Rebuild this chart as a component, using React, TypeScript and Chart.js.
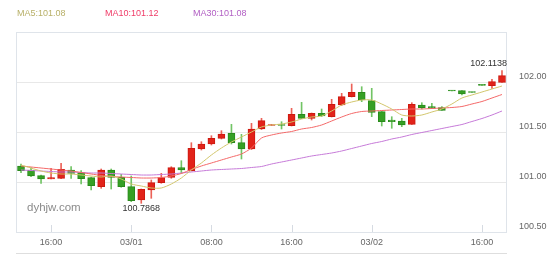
import React, { useEffect, useRef } from 'react';
import { Chart, registerables } from 'chart.js';

Chart.register(...registerables);

const opens = [101.16, 101.12, 101.063, 101.03, 101.037, 101.12, 101.093, 101.043, 100.953, 101.12, 101.047, 100.953, 100.82, 100.92, 100.993, 101.047, 101.143, 101.113, 101.33, 101.38, 101.437, 101.487, 101.393, 101.33, 101.53, 101.565, 101.575, 101.563, 101.677, 101.637, 101.687, 101.653, 101.77, 101.853, 101.897, 101.813, 101.703, 101.62, 101.61, 101.577, 101.77, 101.753, 101.743, 101.915, 101.913, 101.9, 101.972, 101.963, 101.997];
const closes = [101.113, 101.06, 101.03, 101.043, 101.127, 101.087, 101.033, 100.963, 101.12, 101.047, 100.953, 100.813, 100.927, 100.993, 101.043, 101.143, 101.12, 101.337, 101.38, 101.437, 101.48, 101.393, 101.33, 101.53, 101.613, 101.575, 101.565, 101.677, 101.637, 101.687, 101.66, 101.777, 101.853, 101.897, 101.82, 101.697, 101.603, 101.603, 101.57, 101.777, 101.743, 101.737, 101.717, 101.91, 101.88, 101.895, 101.967, 102.003, 102.063];
const highs = [101.18, 101.143, 101.07, 101.137, 101.187, 101.153, 101.113, 101.05, 101.13, 101.13, 101.077, 101.06, 100.93, 101.02, 101.087, 101.153, 101.213, 101.393, 101.403, 101.463, 101.513, 101.577, 101.477, 101.587, 101.637, 101.575, 101.603, 101.737, 101.797, 101.69, 101.73, 101.827, 101.887, 101.98, 101.953, 101.937, 101.705, 101.653, 101.637, 101.793, 101.793, 101.787, 101.753, 101.915, 101.915, 101.9, 101.972, 102.027, 102.1138];
const lows = [101.093, 101.053, 100.987, 101.03, 101.033, 101.037, 100.98, 100.92, 100.937, 100.93, 100.947, 100.803, 100.7868, 100.837, 100.987, 101.037, 101.087, 101.11, 101.32, 101.37, 101.43, 101.38, 101.23, 101.325, 101.525, 101.565, 101.53, 101.56, 101.635, 101.62, 101.655, 101.65, 101.765, 101.85, 101.803, 101.653, 101.56, 101.537, 101.553, 101.575, 101.73, 101.735, 101.715, 101.91, 101.87, 101.895, 101.967, 101.937, 101.995];

const ma5 = [101.17, 101.14, 101.11, 101.09, 101.08, 101.08, 101.07, 101.06, 101.05, 101.06, 101.03, 100.98, 100.96, 100.94, 100.94, 100.98, 101.04, 101.12, 101.19, 101.27, 101.34, 101.40, 101.45, 101.50, 101.55, 101.57, 101.58, 101.60, 101.63, 101.65, 101.66, 101.71, 101.77, 101.80, 101.82, 101.82, 101.78, 101.73, 101.67, 101.66, 101.67, 101.70, 101.73, 101.78, 101.84, 101.87, 101.90, 101.93, 101.96];
const ma10 = [101.16, 101.15, 101.14, 101.13, 101.12, 101.11, 101.095, 101.08, 101.065, 101.055, 101.05, 101.045, 101.04, 101.04, 101.045, 101.06, 101.085, 101.125, 101.16, 101.19, 101.22, 101.25, 101.28, 101.34, 101.44, 101.47, 101.49, 101.505, 101.53, 101.545, 101.57, 101.61, 101.65, 101.685, 101.705, 101.71, 101.715, 101.72, 101.725, 101.73, 101.73, 101.735, 101.74, 101.745, 101.755, 101.78, 101.805, 101.84, 101.875];
const ma30 = [101.12, 101.115, 101.11, 101.105, 101.10, 101.10, 101.095, 101.09, 101.09, 101.085, 101.08, 101.075, 101.07, 101.07, 101.075, 101.08, 101.09, 101.10, 101.11, 101.12, 101.125, 101.13, 101.135, 101.145, 101.155, 101.18, 101.20, 101.22, 101.24, 101.26, 101.275, 101.29, 101.31, 101.335, 101.36, 101.385, 101.405, 101.43, 101.45, 101.475, 101.495, 101.515, 101.535, 101.555, 101.575, 101.605, 101.635, 101.67, 101.71];

const tickIndex = [3, 11, 19, 27, 35, 46];
const tickText = ['16:00', '03/01', '08:00', '16:00', '03/02', '16:00'];
const legendText = ['MA5:101.08', 'MA10:101.12', 'MA30:101.08'];
const legendColors = ['#b8b068', '#f03c68', '#b260c4'];
const lineColors = ['#d2c66c', '#f46868', '#c67ad8'];
const watermark = 'dyhjw.com';
const yMin = 100.5;
const yMax = 102.5;
const yStep = 0.5;

const xLabels: string[] = opens.map((_, i) => {
  const k = tickIndex.indexOf(i);
  return k >= 0 ? tickText[k] : '';
});

const FONT = '"Liberation Sans", Arial, Helvetica, sans-serif';
const UP = '#e2231a', UP_B = '#cc1a10', UP_W = '#ec6258';
const DN = '#36a025', DN_B = '#2a8a1c', DN_W = '#72c465';

export default function App() {
  const ref = useRef<HTMLCanvasElement>(null);

  useEffect(() => {
    if (!ref.current) return;
    const isUp = opens.map((o, i) => closes[i] >= o);

    const decor = {
      id: 'decor',
      beforeDatasetsDraw(chart: any) {
        const ctx = chart.ctx;
        const a = chart.chartArea;
        ctx.save();
        ctx.font = `11.5px ${FONT}`;
        ctx.fillStyle = '#8c8c8c';
        ctx.textBaseline = 'middle';
        ctx.textAlign = 'left';
        ctx.fillText(watermark, a.left + 11, a.bottom - 24);
        ctx.restore();
      },
      afterDraw(chart: any) {
        const ctx = chart.ctx;
        const a = chart.chartArea;
        const xs = chart.scales.x;
        const ys = chart.scales.y;
        ctx.save();
        ctx.strokeStyle = '#dfe4ea';
        ctx.lineWidth = 1;
        ctx.strokeRect(a.left + 0.5, a.top + 0.5, a.right - a.left - 1, a.bottom - a.top);
        ctx.strokeStyle = '#d6dbe2';
        tickIndex.forEach((idx) => {
          const x = Math.round(xs.getPixelForValue(idx)) + 0.5;
          ctx.beginPath();
          ctx.moveTo(x, a.bottom);
          ctx.lineTo(x, a.bottom - 7);
          ctx.stroke();
        });
        ctx.strokeStyle = '#dedede';
        ctx.beginPath();
        ctx.moveTo(a.left, chart.height - 0.5);
        ctx.lineTo(a.right, chart.height - 0.5);
        ctx.stroke();
        ctx.font = `9px ${FONT}`;
        ctx.textBaseline = 'middle';
        ctx.textAlign = 'left';
        const lx = [17, 105, 193];
        legendText.forEach((t, i) => {
          ctx.fillStyle = legendColors[i];
          ctx.fillText(t, lx[i], 14);
        });
        let hi = 0, lo = 0;
        highs.forEach((v, i) => { if (v > highs[hi]) hi = i; });
        lows.forEach((v, i) => { if (v < lows[lo]) lo = i; });
        ctx.fillStyle = '#333';
        ctx.font = `9px ${FONT}`;
        ctx.textAlign = 'center';
        const hiT = highs[hi].toFixed(4);
        const hw = ctx.measureText(hiT).width;
        let hx = xs.getPixelForValue(hi);
        if (hx + hw / 2 > a.right) hx = a.right - hw / 2;
        ctx.textBaseline = 'bottom';
        ctx.fillText(hiT, hx, ys.getPixelForValue(highs[hi]) - 3);
        const loT = lows[lo].toFixed(4);
        const lw = ctx.measureText(loT).width;
        let lxp = xs.getPixelForValue(lo);
        if (lxp - lw / 2 < a.left) lxp = a.left + lw / 2;
        ctx.textBaseline = 'top';
        ctx.fillText(loT, lxp, ys.getPixelForValue(lows[lo]) + 0.5);
        ctx.restore();
      },
    };

    const lineDs = (data: number[], color: string) => ({
      type: 'line' as const,
      data,
      borderColor: color,
      backgroundColor: color,
      borderWidth: 1,
      pointRadius: 0,
      tension: 0.25,
      fill: false,
      order: 0,
    });

    const chart = new Chart(ref.current, {
      type: 'bar',
      data: {
        labels: xLabels,
        datasets: [
          lineDs(ma5, lineColors[0]),
          lineDs(ma10, lineColors[1]),
          lineDs(ma30, lineColors[2]),
          {
            type: 'bar',
            data: opens.map((o, i) => [o, closes[i]]),
            backgroundColor: isUp.map((u) => (u ? UP : DN)),
            borderColor: isUp.map((u) => (u ? UP_B : DN_B)),
            borderWidth: 1,
            borderSkipped: false,
            barThickness: 7,
            minBarLength: 1,
            grouped: false,
            order: 1,
          } as any,
          {
            type: 'bar',
            data: lows.map((l, i) => [l, highs[i]]),
            backgroundColor: isUp.map((u) => (u ? UP_W : DN_W)),
            borderWidth: 0,
            barThickness: 1,
            grouped: false,
            order: 2,
          } as any,
        ],
      },
      options: {
        responsive: false,
        animation: false,
        devicePixelRatio: 1,
        layout: { padding: { left: 16, top: 32, right: 0, bottom: 0 } },
        plugins: { legend: { display: false }, tooltip: { enabled: false } },
        scales: {
          x: {
            type: 'category',
            offset: true,
            grid: { display: false, drawTicks: false },
            border: { display: false },
            ticks: {
              autoSkip: false,
              maxRotation: 0,
              minRotation: 0,
              padding: 5,
              color: '#666',
              font: { size: 9, family: FONT },
              callback: (_v: any, i: number) => xLabels[i],
            },
            afterFit: (s: any) => { s.height = 22; },
          },
          y: {
            position: 'right',
            min: yMin,
            max: yMax,
            grid: { color: '#e8e8e8', drawTicks: false },
            border: { display: false },
            ticks: {
              stepSize: yStep,
              padding: 12,
              labelOffset: -5,
              color: '#666',
              font: { size: 9, family: FONT },
              callback: (v: any) => (Number(v) >= yMax ? '' : Number(v).toFixed(2)),
            },
            afterFit: (s: any) => { s.width = 43; },
          },
        },
      },
      plugins: [decor],
    });
    return () => chart.destroy();
  }, []);

  return (
    <div style={{ position: 'fixed', left: 0, top: 0, width: 550, height: 254, background: '#fff' }}>
      <canvas ref={ref} width={550} height={254} style={{ display: 'block' }} />
    </div>
  );
}
